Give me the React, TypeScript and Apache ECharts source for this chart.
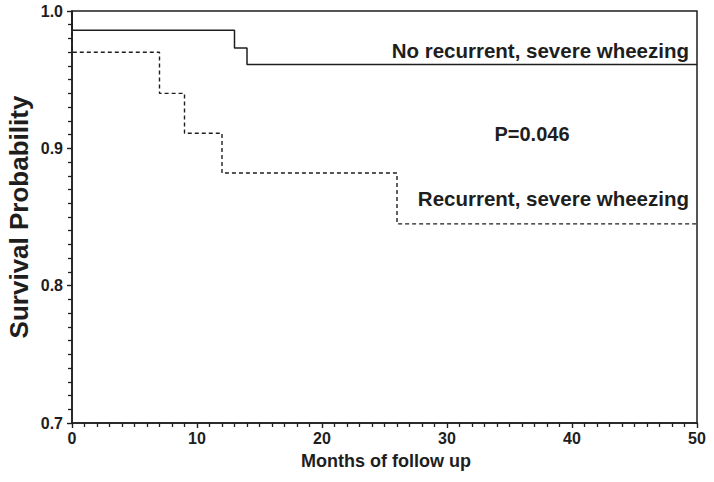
import React, { useEffect, useRef } from "react";
import * as echarts from "echarts";

// Kaplan-Meier step points [month, survival probability]
const noRecurrentMonths = [0, 0, 13, 14, 50];
const noRecurrentSurvival = [1.0, 0.986, 0.973, 0.961, 0.961];

const recurrentMonths = [0, 0, 7, 9, 12, 26, 50];
const recurrentSurvival = [1.0, 0.97, 0.94, 0.911, 0.882, 0.845, 0.845];

const xTicks = { min: 0, max: 50, interval: 10 };
const yTicks = { min: 0.7, max: 1.0, interval: 0.1 };

const labelNoRecurrent = "No recurrent, severe wheezing";
const labelRecurrent = "Recurrent, severe wheezing";
const labelP = "P=0.046";
const xTitle = "Months of follow up";
const yTitle = "Survival Probability";

const FONT = "'Liberation Sans', Arial, Helvetica, sans-serif";
const INK = "#1e1e1e";

export default function App() {
  const ref = useRef<HTMLDivElement>(null);
  useEffect(() => {
    if (!ref.current) return;
    const chart = echarts.init(ref.current, undefined, { renderer: "svg" });
    const zip = (xs: number[], ys: number[]) => xs.map((x, i) => [x, ys[i]]);
    const axisCommon = {
      axisLine: { show: true, onZero: false, lineStyle: { color: INK, width: 1.5 } },
      axisTick: { show: true, length: 5, inside: false, lineStyle: { color: INK, width: 1.4 } },
      minorTick: { show: true, splitNumber: 10, length: 4, lineStyle: { color: INK, width: 1.3 } },
      splitLine: { show: false },
      minorSplitLine: { show: false },
    };
    chart.setOption({
      animation: false,
      backgroundColor: "#ffffff",
      grid: {
        left: 72,
        right: 17,
        top: 11,
        bottom: 59,
        show: true,
        borderColor: INK,
        borderWidth: 1.5,
        backgroundColor: "transparent",
      },
      xAxis: {
        type: "value",
        ...xTicks,
        ...axisCommon,
        axisLabel: {
          color: INK,
          fontFamily: FONT,
          fontWeight: "bold",
          fontSize: 16,
          margin: 7,
        },
      },
      yAxis: {
        type: "value",
        ...yTicks,
        ...axisCommon,
        axisLabel: {
          color: INK,
          fontFamily: FONT,
          fontWeight: "bold",
          fontSize: 16,
          margin: 9,
          formatter: (v: number) => v.toFixed(1),
        },
      },
      series: [
        {
          type: "line",
          step: "end",
          symbol: "none",
          data: zip(noRecurrentMonths, noRecurrentSurvival),
          lineStyle: { color: INK, width: 1.5, type: "solid" },
        },
        {
          type: "line",
          step: "end",
          symbol: "none",
          data: zip(recurrentMonths, recurrentSurvival),
          lineStyle: { color: INK, width: 1.4, type: [4, 3] },
        },
      ],
      graphic: [
        {
          type: "text",
          x: 689,
          y: 50,
          style: {
            text: labelNoRecurrent,
            fill: INK,
            font: `bold 20.5px ${FONT}`,
            align: "right",
            verticalAlign: "middle",
          },
        },
        {
          type: "text",
          x: 532,
          y: 134,
          style: {
            text: labelP,
            fill: INK,
            font: `bold 20px ${FONT}`,
            align: "center",
            verticalAlign: "middle",
          },
        },
        {
          type: "text",
          x: 689,
          y: 198,
          style: {
            text: labelRecurrent,
            fill: INK,
            font: `bold 20.5px ${FONT}`,
            align: "right",
            verticalAlign: "middle",
          },
        },
        {
          type: "text",
          x: 386,
          y: 461,
          style: {
            text: xTitle,
            fill: INK,
            font: `bold 18px ${FONT}`,
            align: "center",
            verticalAlign: "middle",
          },
        },
        {
          type: "text",
          x: 19,
          y: 217,
          rotation: Math.PI / 2,
          style: {
            text: yTitle,
            fill: INK,
            font: `bold 26px ${FONT}`,
            align: "center",
            verticalAlign: "middle",
          },
        },
      ],
    });
    return () => chart.dispose();
  }, []);
  return (
    <div
      ref={ref}
      style={{ position: "fixed", left: 0, top: 0, width: 714, height: 482 }}
    />
  );
}
